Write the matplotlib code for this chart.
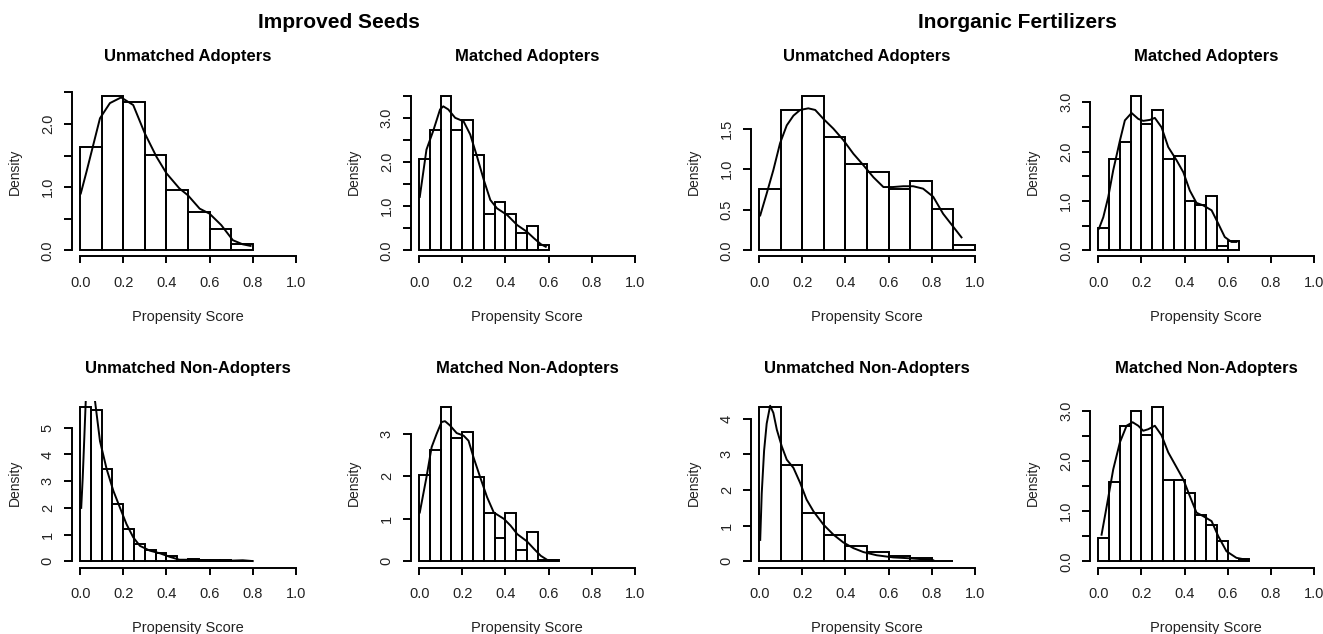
import numpy as np
import matplotlib.pyplot as plt

plt.rcParams['font.family'] = ['Liberation Sans', 'DejaVu Sans']

W, H = 1323, 634

# ---- data (density histograms + kernel density lines) ----
# Improved seeds, unmatched adopters (bin width 0.1)
seeds_ua_bw = 0.1
seeds_ua_h = [1.64, 2.44, 2.35, 1.51, 0.95, 0.60, 0.33, 0.095]
seeds_ua_kx = [0.003, 0.03, 0.092, 0.138, 0.19, 0.246, 0.30, 0.354, 0.40, 0.46, 0.50,
               0.554, 0.60, 0.654, 0.708, 0.754, 0.79]
seeds_ua_ky = [0.90, 1.25, 2.09, 2.33, 2.42, 2.30, 1.85, 1.48, 1.22, 0.98, 0.87,
               0.66, 0.58, 0.40, 0.16, 0.095, 0.07]

# Improved seeds, matched adopters (bin width 0.05)
seeds_ma_bw = 0.05
seeds_ma_h = [2.07, 2.72, 3.49, 2.72, 2.94, 2.15, 0.82, 1.09, 0.82, 0.39, 0.55, 0.13]
seeds_ma_kx = [0.003, 0.034, 0.065, 0.097, 0.112, 0.135, 0.167, 0.206, 0.237, 0.268, 0.30,
               0.33, 0.361, 0.408, 0.455, 0.50, 0.533, 0.564, 0.587]
seeds_ma_ky = [1.21, 2.28, 2.70, 3.19, 3.26, 3.19, 3.00, 2.92, 2.62, 2.13, 1.59,
               1.14, 0.95, 0.80, 0.57, 0.42, 0.27, 0.14, 0.08]

# Inorganic fertilizers, unmatched adopters (bin width 0.1)
fert_ua_bw = 0.1
fert_ua_h = [0.75, 1.73, 1.90, 1.40, 1.07, 0.96, 0.75, 0.86, 0.51, 0.06]
fert_ua_kx = [0.005, 0.035, 0.066, 0.097, 0.128, 0.159, 0.19, 0.228, 0.26, 0.298, 0.344,
              0.39, 0.437, 0.483, 0.53, 0.576, 0.62, 0.668, 0.714, 0.76, 0.807, 0.853,
              0.90, 0.938]
fert_ua_ky = [0.43, 0.70, 0.99, 1.32, 1.54, 1.66, 1.73, 1.75, 1.73, 1.62, 1.50,
              1.36, 1.19, 1.05, 0.90, 0.78, 0.78, 0.79, 0.79, 0.76, 0.66, 0.45,
              0.29, 0.16]

# Inorganic fertilizers, matched adopters (bin width 0.05)
fert_ma_bw = 0.05
fert_ma_h = [0.45, 1.84, 2.19, 3.12, 2.56, 2.83, 1.85, 1.90, 1.00, 0.92, 1.09, 0.08, 0.18]
fert_ma_kx = [0.003, 0.023, 0.046, 0.069, 0.10, 0.123, 0.154, 0.185, 0.208, 0.239, 0.262,
              0.293, 0.324, 0.363, 0.394, 0.424, 0.455, 0.486, 0.525, 0.556, 0.586,
              0.617, 0.64]
fert_ma_ky = [0.44, 0.67, 1.08, 1.62, 2.22, 2.63, 2.78, 2.66, 2.62, 2.64, 2.68,
              2.49, 2.09, 1.82, 1.58, 1.21, 0.96, 0.91, 0.81, 0.54, 0.27,
              0.17, 0.17]

# Improved seeds, unmatched non-adopters (bin width 0.05)
seeds_un_bw = 0.05
seeds_un_h = [5.77, 5.65, 3.45, 2.16, 1.21, 0.65, 0.42, 0.31, 0.19, 0.05, 0.10,
              0.05, 0.05, 0.05, 0.01, 0.02]
seeds_un_kx = [0.005, 0.012, 0.02, 0.026, 0.034, 0.05, 0.062, 0.069, 0.092, 0.123, 0.154,
               0.185, 0.215, 0.246, 0.277, 0.323, 0.37, 0.415, 0.46, 0.51, 0.585,
               0.677, 0.754, 0.80]
seeds_un_ky = [2.0, 3.13, 4.75, 6.0, 6.6, 6.85, 6.5, 6.0, 4.5, 3.45, 2.64,
               2.0, 1.39, 0.90, 0.58, 0.40, 0.30, 0.17, 0.06, 0.06, 0.04,
               0.02, 0.04, 0.01]

# Improved seeds, matched non-adopters (bin width 0.05)
seeds_mn_bw = 0.05
seeds_mn_h = [2.03, 2.61, 3.63, 2.91, 3.04, 1.98, 1.14, 0.54, 1.14, 0.27, 0.68, 0.03, 0.03]
seeds_mn_kx = [0.003, 0.034, 0.058, 0.081, 0.104, 0.12, 0.143, 0.174, 0.206, 0.229, 0.252,
               0.283, 0.315, 0.346, 0.393, 0.424, 0.455, 0.50, 0.533, 0.564, 0.595, 0.64]
seeds_mn_ky = [1.15, 1.98, 2.69, 3.00, 3.28, 3.30, 3.20, 3.02, 2.96, 2.84, 2.45,
               1.98, 1.51, 1.15, 1.00, 0.84, 0.64, 0.47, 0.29, 0.13, 0.03, 0.02]

# Inorganic fertilizers, unmatched non-adopters (bin width 0.1)
fert_un_bw = 0.1
fert_un_h = [4.32, 2.69, 1.36, 0.75, 0.42, 0.25, 0.14, 0.09, 0.02]
fert_un_kx = [0.005, 0.012, 0.023, 0.035, 0.051, 0.066, 0.082, 0.105, 0.128, 0.159, 0.19,
              0.22, 0.252, 0.298, 0.344, 0.39, 0.437, 0.483, 0.545, 0.622, 0.684,
              0.745, 0.807]
fert_un_ky = [0.60, 1.90, 3.10, 3.86, 4.36, 4.16, 3.69, 3.22, 2.85, 2.62, 2.20,
              1.73, 1.40, 1.03, 0.75, 0.53, 0.37, 0.26, 0.17, 0.11, 0.09,
              0.065, 0.03]

# Inorganic fertilizers, matched non-adopters (bin width 0.05)
fert_mn_bw = 0.05
fert_mn_h = [0.47, 1.57, 2.70, 2.99, 2.51, 3.07, 1.62, 1.62, 1.37, 0.92, 0.73, 0.41, 0.013, 0.05]
fert_mn_kx = [0.015, 0.039, 0.069, 0.10, 0.131, 0.159, 0.185, 0.208, 0.231, 0.262, 0.293,
              0.324, 0.363, 0.394, 0.424, 0.455, 0.486, 0.525, 0.556, 0.594, 0.64, 0.687]
fert_mn_ky = [0.53, 1.10, 1.83, 2.37, 2.70, 2.77, 2.70, 2.60, 2.63, 2.70, 2.51,
              2.17, 1.87, 1.63, 1.30, 0.97, 0.90, 0.80, 0.50, 0.20, 0.07, 0.03]

x_ticks = [0.0, 0.2, 0.4, 0.6, 0.8, 1.0]
x_tick_labels = ['0.0', '0.2', '0.4', '0.6', '0.8', '1.0']

titles = ['Unmatched Adopters', 'Matched Adopters', 'Unmatched Adopters', 'Matched Adopters',
          'Unmatched Non-Adopters', 'Matched Non-Adopters',
          'Unmatched Non-Adopters', 'Matched Non-Adopters']

panels = [
    (seeds_ua_bw, seeds_ua_h, seeds_ua_kx, seeds_ua_ky,
     [0, 0.5, 1.0, 1.5, 2.0, 2.5], ['0.0', '', '1.0', '', '2.0', '']),
    (seeds_ma_bw, seeds_ma_h, seeds_ma_kx, seeds_ma_ky,
     [0, 0.5, 1.0, 1.5, 2.0, 2.5, 3.0, 3.5], ['0.0', '', '1.0', '', '2.0', '', '3.0', '']),
    (fert_ua_bw, fert_ua_h, fert_ua_kx, fert_ua_ky,
     [0, 0.5, 1.0, 1.5], ['0.0', '0.5', '1.0', '1.5']),
    (fert_ma_bw, fert_ma_h, fert_ma_kx, fert_ma_ky,
     [0, 0.5, 1.0, 1.5, 2.0, 2.5, 3.0], ['0.0', '', '1.0', '', '2.0', '', '3.0']),
    (seeds_un_bw, seeds_un_h, seeds_un_kx, seeds_un_ky,
     [0, 1, 2, 3, 4, 5], ['0', '1', '2', '3', '4', '5']),
    (seeds_mn_bw, seeds_mn_h, seeds_mn_kx, seeds_mn_ky,
     [0, 1, 2, 3], ['0', '1', '2', '3']),
    (fert_un_bw, fert_un_h, fert_un_kx, fert_un_ky,
     [0, 1, 2, 3, 4], ['0', '1', '2', '3', '4']),
    (fert_mn_bw, fert_mn_h, fert_mn_kx, fert_mn_ky,
     [0, 0.5, 1.0, 1.5, 2.0, 2.5, 3.0], ['0.0', '', '1.0', '', '2.0', '', '3.0']),
]

# plot regions in pixels (left, top), all the same size
col_left = [71.5, 410.5, 750.5, 1089.7]
row_top = [90, 401]
ax_w, ax_h = 233, 166.5


def fx(px):
    return px / W


def fy(py):
    return 1 - py / H


fig = plt.figure(figsize=(W / 100, H / 100), dpi=100)

for i, (bw, heights, kx, ky, yt, ytl) in enumerate(panels):
    r, c = divmod(i, 4)
    left, top = col_left[c], row_top[r]
    ax = fig.add_axes([fx(left), fy(top + ax_h), ax_w / W, ax_h / H])

    starts = np.arange(len(heights)) * bw
    ax.bar(starts, heights, width=bw, align='edge', facecolor='none',
           edgecolor='black', linewidth=1.4)
    ax.plot(kx, ky, color='black', linewidth=1.4)

    ymax = max(heights)
    ax.set_xlim(-0.04, 1.04)
    ax.set_ylim(-0.04 * ymax, 1.04 * ymax)

    for s in ['top', 'right']:
        ax.spines[s].set_visible(False)
    ax.spines['bottom'].set_bounds(0, 1)
    ax.spines['left'].set_bounds(0, yt[-1])
    ax.spines['bottom'].set_linewidth(1.4)
    ax.spines['left'].set_linewidth(1.4)

    ax.set_xticks(x_ticks)
    ax.set_xticklabels(x_tick_labels, fontsize=10.5, color='#222222')
    ax.set_yticks(yt)
    ax.set_yticklabels(ytl, fontsize=10.5, rotation=90, va='center', color='#222222')
    ax.tick_params(axis='x', length=5, width=1.4, pad=9)
    ax.tick_params(axis='y', length=6, width=1.4, pad=6)

    cx = left + ax_w / 2
    fig.text(fx(cx), fy(top - 33), titles[i], ha='center', va='center',
             fontsize=12, fontweight='bold')
    fig.text(fx(cx), fy(top + 227), 'Propensity Score', ha='center', va='center',
             fontsize=10.5, color='#222222')
    fig.text(fx(left - 57), fy(top + 82), 'Density', ha='center', va='center',
             rotation=90, fontsize=10, color='#222222')

fig.text(fx(339), fy(23), 'Improved Seeds', ha='center', va='center',
         fontsize=15, fontweight='bold')
fig.text(fx(1017), fy(23), 'Inorganic Fertilizers', ha='center', va='center',
         fontsize=15, fontweight='bold')

fig.savefig('out.png', dpi=100)
